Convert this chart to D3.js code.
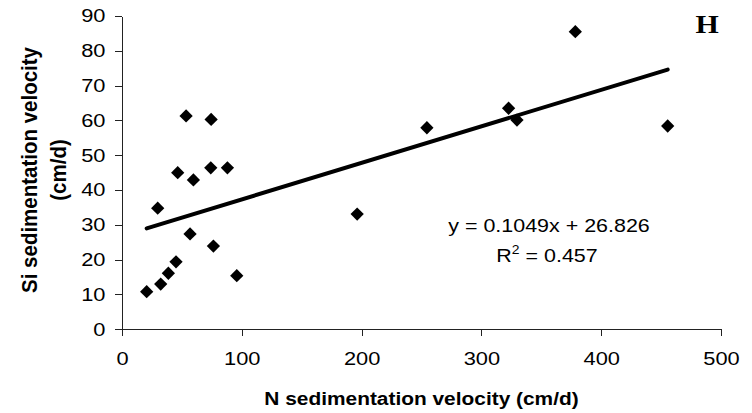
<!DOCTYPE html>
<html>
<head>
<meta charset="utf-8">
<script src="https://cdn.jsdelivr.net/npm/d3@7"></script>
<style>
	body { margin: 0; background: #fff; }
	svg { display: block; }
	.axis text { font-family: "Liberation Sans", Arial, sans-serif; font-size: 18.5px; fill: #000; }
	.axis path, .axis line { stroke: #222; stroke-width: 1; shape-rendering: crispEdges; }
	.atitle { font-family: "Liberation Sans", Arial, sans-serif; font-weight: bold; fill: #000; }
	.eq { font-family: "Liberation Sans", Arial, sans-serif; font-size: 18.5px; fill: #000; }
</style>
</head>
<body>
<script>
// N vs Si sedimentation velocity (cm/d)
var nVel  = [20.6, 32.3, 38.7, 45.1, 29.8, 56.8, 76.3, 95.8, 46.5, 59.6, 74.1, 88.0, 53.5, 74.4, 196.3, 254.5, 322.7, 329.7, 378.4, 455.5];
var siVel = [10.8, 13.0, 16.1, 19.4, 34.8, 27.4, 23.9, 15.4, 45.0, 42.9, 46.4, 46.4, 61.3, 60.3, 33.1, 57.9, 63.5, 60.1, 85.5, 58.4];

var xTicks = [0, 100, 200, 300, 400, 500];
var yTicks = [0, 10, 20, 30, 40, 50, 60, 70, 80, 90];

// trend line as printed on the chart
var slope = 0.1049, intercept = 26.826, r2 = 0.457;

var W = 752, H = 413;
var stretch = 1.18; // text in the picture is a bit wider than tall

var svg = d3.select('body').append('svg').attr('width', W).attr('height', H);

var x = d3.scaleLinear().domain([0, 500]).range([122, 721]);
var y = d3.scaleLinear().domain([0, 90]).range([329.3, 16]);

// axes
var gx = svg.append('g').attr('class', 'axis')
	.attr('transform', 'translate(0,' + y(0) + ')')
	.call(d3.axisBottom(x).tickValues(xTicks).tickSize(7).tickSizeOuter(0));
gx.selectAll('text')
	.attr('y', 23).attr('dy', '0.71em')
	.attr('transform', 'scale(' + stretch + ',1)');

var gy = svg.append('g').attr('class', 'axis')
	.attr('transform', 'translate(' + x(0) + ',0)')
	.call(d3.axisLeft(y).tickValues(yTicks).tickSize(7).tickSizeOuter(0));
gy.selectAll('text')
	.attr('x', -14)
	.attr('transform', 'scale(' + stretch + ',1)');

// regression line from min to max x
var xe = d3.extent(nVel);
svg.append('line')
	.attr('x1', x(xe[0])).attr('y1', y(slope * xe[0] + intercept))
	.attr('x2', x(xe[1])).attr('y2', y(slope * xe[1] + intercept))
	.attr('stroke', '#000').attr('stroke-width', 4).attr('stroke-linecap', 'round');

// diamond markers
var diamond = d3.symbol().type(d3.symbolSquare).size(88);
svg.append('g').selectAll('path').data(nVel).enter().append('path')
	.attr('d', diamond)
	.attr('fill', '#000')
	.attr('transform', function (d, i) { return 'translate(' + x(d) + ',' + y(siVel[i]) + ') rotate(45)'; });

// axis titles
svg.append('text').attr('class', 'atitle')
	.attr('transform', 'translate(421.5,405) scale(' + stretch + ',1)')
	.attr('text-anchor', 'middle').attr('font-size', '17.7px')
	.text('N sedimentation velocity (cm/d)');

var ytitle = svg.append('text').attr('class', 'atitle')
	.attr('transform', 'translate(0,170) scale(1.1,1) rotate(-90)')
	.attr('text-anchor', 'middle').attr('font-size', '20.5px');
ytitle.append('tspan').attr('x', 0).attr('y', 34).text('Si sedimentation velocity');
ytitle.append('tspan').attr('x', 0).attr('y', 60).text('(cm/d)');

// equation
svg.append('text').attr('class', 'eq')
	.attr('transform', 'translate(549,231.5) scale(1.16,1)')
	.attr('text-anchor', 'middle')
	.text('y = ' + slope + 'x + ' + intercept);

var r = svg.append('text').attr('class', 'eq')
	.attr('transform', 'translate(547,261.5) scale(1.16,1)')
	.attr('text-anchor', 'middle');
r.append('tspan').text('R');
r.append('tspan').attr('font-size', '12px').attr('dy', -8).text('2');
r.append('tspan').attr('dy', 8).text(' = ' + r2);

// panel letter
svg.append('text')
	.attr('transform', 'translate(707,33) scale(1.15,1)')
	.attr('text-anchor', 'middle')
	.attr('font-family', '"Liberation Serif", "Times New Roman", serif')
	.attr('font-weight', 'bold').attr('font-size', '26px')
	.text('H');
</script>
</body>
</html>
